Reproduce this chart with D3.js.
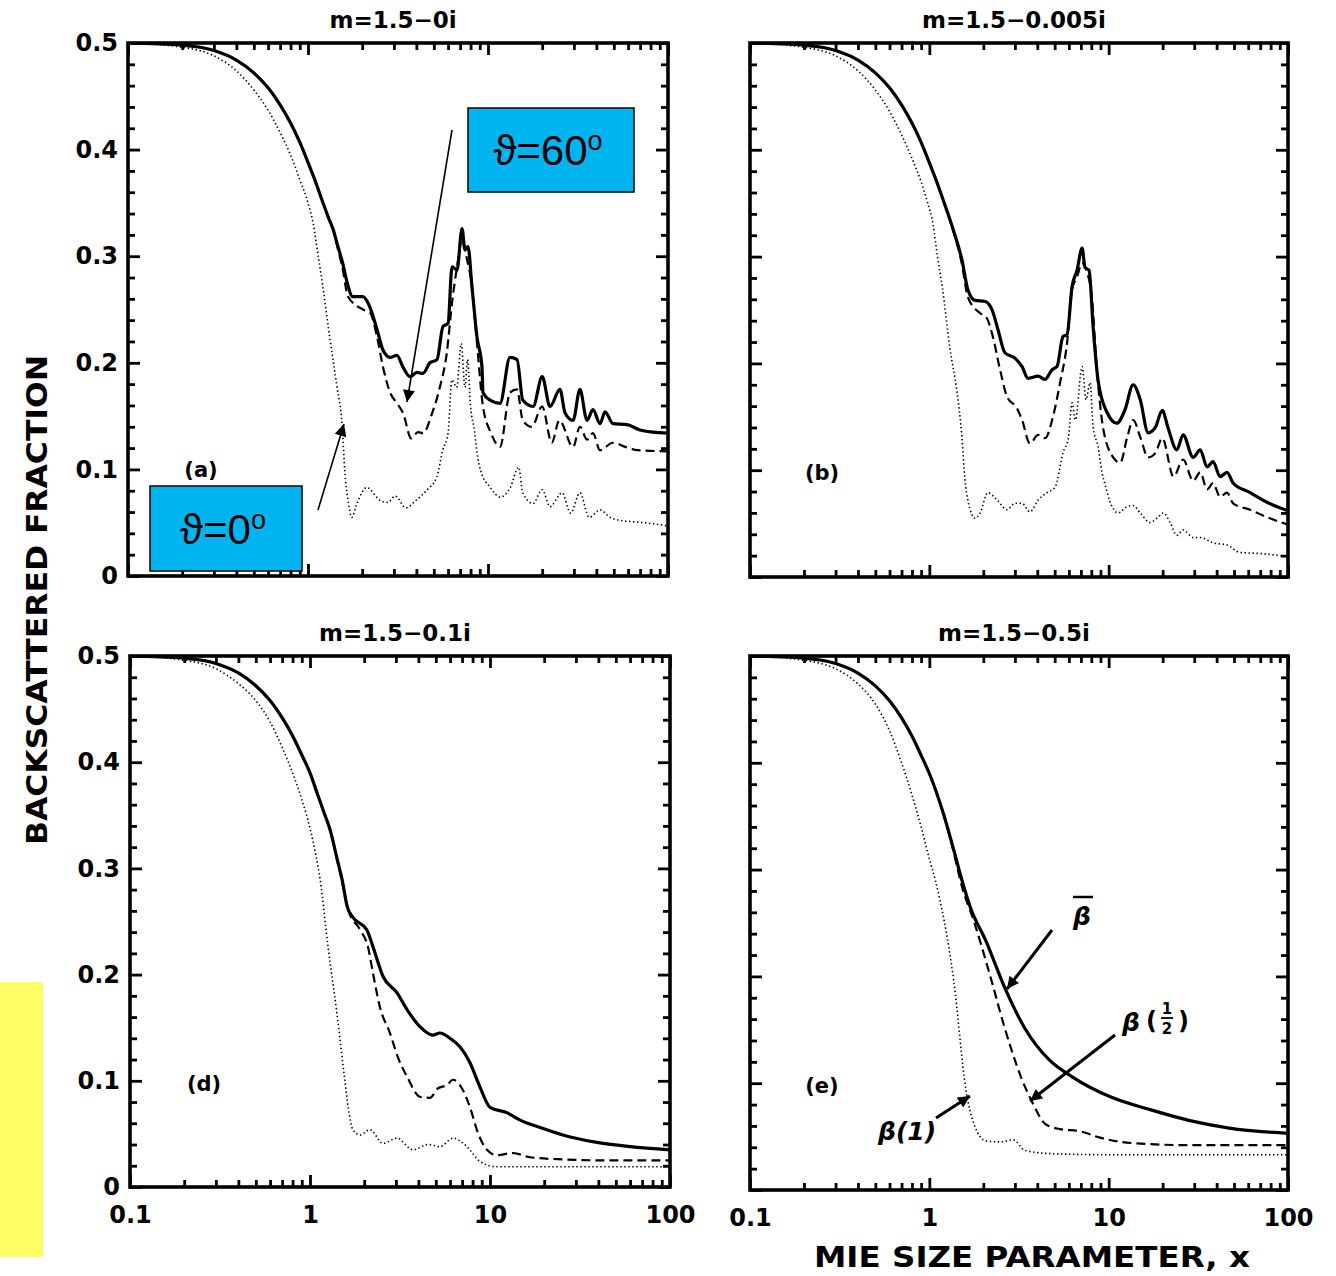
<!DOCTYPE html>
<html>
<head>
<meta charset="utf-8">
<script src="https://d3js.org/d3.v7.min.js"></script>
<style>
html,body{margin:0;background:#fff;}
svg{display:block;font-family:'DejaVu Sans',sans-serif;}
</style>
</head>
<body>
<script>
// backscattered fraction vs Mie size parameter, [x, value]
var aSolid = [[0.1,0.5],[0.2,0.498],[0.3,0.493],[0.4,0.484],[0.5,0.472],[0.6,0.458],[0.7,0.442],[0.8,0.425],[0.9,0.407],[1.0,0.388],[1.1,0.37],[1.2,0.352],[1.3,0.336],[1.38,0.325],[1.45,0.312],[1.55,0.295],[1.67,0.272],[1.76,0.262],[2.02,0.262],[2.21,0.252],[2.42,0.231],[2.61,0.212],[2.86,0.205],[3.12,0.207],[3.37,0.196],[3.69,0.187],[4.03,0.191],[4.35,0.19],[4.76,0.2],[5.21,0.203],[5.62,0.234],[6.0,0.237],[6.31,0.29],[6.73,0.287],[7.17,0.326],[7.45,0.306],[7.74,0.309],[8.15,0.271],[8.69,0.224],[9.26,0.196],[9.38,0.172],[10.26,0.165],[11.66,0.162],[13.25,0.205],[14.5,0.203],[15.6,0.165],[17.8,0.159],[20,0.187],[22.1,0.159],[25.1,0.175],[26.8,0.153],[29.7,0.146],[32.4,0.175],[35.5,0.146],[38.3,0.156],[41.9,0.143],[44.7,0.154],[49.4,0.143],[59.2,0.142],[69.9,0.137],[82.5,0.135],[100,0.134]];
var aDashed = [[0.1,0.5],[0.2,0.498],[0.3,0.493],[0.4,0.484],[0.5,0.472],[0.6,0.458],[0.7,0.442],[0.8,0.425],[0.9,0.407],[1.0,0.388],[1.1,0.37],[1.2,0.352],[1.3,0.336],[1.38,0.325],[1.45,0.31],[1.55,0.29],[1.67,0.262],[2.02,0.25],[2.21,0.247],[2.42,0.224],[2.61,0.196],[2.86,0.172],[3.12,0.162],[3.37,0.153],[3.75,0.129],[4.08,0.135],[4.35,0.134],[4.9,0.153],[5.4,0.177],[5.9,0.209],[6.31,0.256],[6.73,0.29],[7.17,0.315],[7.6,0.299],[8.15,0.271],[8.69,0.218],[9.38,0.159],[10.4,0.134],[11.66,0.121],[13.25,0.172],[14.5,0.175],[15.6,0.146],[17.5,0.14],[20,0.159],[22.6,0.125],[24.9,0.146],[29.7,0.121],[32.4,0.14],[35.5,0.128],[38.3,0.134],[41.9,0.118],[49.4,0.125],[58.3,0.121],[67.8,0.118],[100,0.117]];
var aDotted = [[0.1,0.5],[0.2,0.496],[0.3,0.488],[0.4,0.474],[0.5,0.456],[0.6,0.437],[0.7,0.416],[0.8,0.395],[0.9,0.372],[1.0,0.35],[1.07,0.33],[1.14,0.3],[1.21,0.271],[1.32,0.224],[1.45,0.177],[1.55,0.14],[1.6,0.099],[1.67,0.071],[1.75,0.055],[1.87,0.068],[2.12,0.083],[2.51,0.071],[2.78,0.069],[3.05,0.075],[3.5,0.064],[3.98,0.071],[4.6,0.081],[5.2,0.093],[5.6,0.118],[6.0,0.134],[6.3,0.184],[6.7,0.177],[7.1,0.218],[7.45,0.177],[7.7,0.203],[8.0,0.159],[8.4,0.137],[8.7,0.115],[9.1,0.099],[10.3,0.083],[11.7,0.074],[13.3,0.083],[14.8,0.102],[15.6,0.078],[17.8,0.068],[20,0.081],[22.1,0.065],[25.8,0.078],[28.8,0.059],[32.4,0.078],[36.5,0.055],[42,0.062],[47.6,0.055],[55,0.052],[63,0.051],[82.5,0.049],[100,0.047]];

var bSolid = [[0.1,0.5],[0.2,0.498],[0.3,0.493],[0.4,0.484],[0.5,0.472],[0.6,0.458],[0.7,0.442],[0.8,0.425],[0.9,0.407],[1.0,0.388],[1.1,0.37],[1.2,0.352],[1.36,0.325],[1.52,0.297],[1.64,0.269],[1.8,0.259],[2.05,0.258],[2.24,0.25],[2.42,0.231],[2.64,0.21],[3.0,0.205],[3.29,0.197],[3.55,0.186],[4.04,0.188],[4.42,0.185],[4.83,0.194],[5.15,0.197],[5.56,0.225],[5.86,0.227],[6.25,0.272],[6.66,0.287],[7.11,0.308],[7.38,0.29],[7.78,0.287],[8.19,0.234],[8.73,0.184],[9.8,0.154],[11.1,0.144],[12.3,0.156],[13.7,0.18],[15.0,0.166],[16.6,0.135],[18.2,0.14],[19.9,0.156],[21.4,0.14],[24.0,0.119],[26.0,0.133],[29.6,0.112],[32.4,0.119],[35.4,0.103],[38.2,0.108],[41.8,0.094],[45.7,0.098],[49.4,0.088],[61.5,0.079],[76.4,0.07],[100,0.062]];
var bDashed = [[0.1,0.5],[0.2,0.498],[0.3,0.493],[0.4,0.484],[0.5,0.472],[0.6,0.458],[0.7,0.442],[0.8,0.425],[0.9,0.407],[1.0,0.388],[1.1,0.37],[1.2,0.352],[1.36,0.324],[1.52,0.293],[1.64,0.262],[1.92,0.247],[2.08,0.243],[2.26,0.225],[2.48,0.194],[2.71,0.169],[3.08,0.158],[3.29,0.147],[3.64,0.125],[4.04,0.133],[4.42,0.13],[4.89,0.15],[5.36,0.182],[5.86,0.219],[6.25,0.269],[6.66,0.281],[7.11,0.294],[7.59,0.285],[8.06,0.262],[8.6,0.194],[9.3,0.14],[10.6,0.112],[11.6,0.107],[12.7,0.131],[13.7,0.147],[15.0,0.131],[16.6,0.112],[18.2,0.116],[19.9,0.13],[23.0,0.094],[26.0,0.11],[29.6,0.09],[32.4,0.098],[35.4,0.082],[38.2,0.088],[41.8,0.075],[45.7,0.079],[49.4,0.069],[61.5,0.063],[76.4,0.056],[100,0.049]];
var bDotted = [[0.1,0.5],[0.2,0.496],[0.3,0.488],[0.4,0.474],[0.5,0.456],[0.6,0.436],[0.7,0.414],[0.8,0.392],[0.9,0.37],[0.98,0.35],[1.05,0.33],[1.11,0.3],[1.18,0.272],[1.3,0.215],[1.43,0.172],[1.52,0.131],[1.58,0.091],[1.64,0.072],[1.8,0.055],[1.92,0.06],[2.12,0.079],[2.39,0.072],[2.71,0.063],[3.0,0.069],[3.29,0.069],[3.64,0.061],[4.04,0.072],[4.53,0.079],[5.02,0.084],[5.56,0.116],[5.97,0.131],[6.25,0.163],[6.52,0.147],[7.11,0.197],[7.48,0.166],[7.88,0.182],[8.19,0.14],[8.73,0.122],[9.2,0.097],[9.5,0.088],[10.1,0.072],[11.3,0.06],[12.7,0.066],[13.7,0.067],[15.0,0.06],[17.0,0.051],[18.6,0.055],[20.2,0.06],[22.0,0.051],[24.0,0.039],[26.0,0.044],[29.6,0.037],[32.4,0.037],[38.2,0.032],[45.7,0.03],[54,0.023],[70,0.022],[100,0.019]];

var dSolid = [[0.1,0.5],[0.2,0.498],[0.3,0.493],[0.4,0.484],[0.5,0.472],[0.6,0.458],[0.7,0.442],[0.8,0.425],[0.9,0.407],[1.0,0.39],[1.1,0.37],[1.2,0.352],[1.3,0.335],[1.41,0.31],[1.51,0.289],[1.61,0.264],[1.73,0.254],[2.07,0.242],[2.24,0.226],[2.55,0.198],[3.04,0.183],[3.46,0.167],[4.08,0.151],[4.82,0.143],[5.27,0.145],[6.0,0.14],[6.81,0.132],[7.74,0.117],[8.8,0.094],[10.0,0.075],[12.4,0.07],[14.7,0.063],[19.0,0.056],[25.4,0.049],[39.3,0.042],[60,0.038],[100,0.035]];
var dDashed = [[0.1,0.5],[0.2,0.498],[0.3,0.493],[0.4,0.484],[0.5,0.472],[0.6,0.458],[0.7,0.442],[0.8,0.425],[0.9,0.407],[1.0,0.39],[1.1,0.37],[1.2,0.352],[1.3,0.335],[1.41,0.309],[1.51,0.287],[1.63,0.261],[1.9,0.242],[2.1,0.226],[2.24,0.201],[2.45,0.169],[2.78,0.145],[3.08,0.122],[3.46,0.104],[4.08,0.085],[4.64,0.084],[5.14,0.093],[5.77,0.096],[6.23,0.101],[6.98,0.093],[7.74,0.075],[8.57,0.051],[9.62,0.035],[10.9,0.03],[13.4,0.032],[16.7,0.028],[25.4,0.026],[48,0.025],[100,0.025]];
var dDotted = [[0.1,0.5],[0.2,0.496],[0.3,0.488],[0.4,0.474],[0.5,0.458],[0.6,0.438],[0.7,0.414],[0.8,0.39],[0.9,0.365],[1.0,0.338],[1.07,0.315],[1.14,0.289],[1.26,0.226],[1.41,0.164],[1.56,0.101],[1.63,0.075],[1.73,0.054],[1.9,0.049],[2.15,0.054],[2.55,0.041],[3.04,0.046],[3.73,0.035],[4.53,0.04],[5.27,0.038],[6.23,0.046],[7.45,0.038],[8.8,0.024],[10.9,0.019],[16.7,0.019],[31.6,0.019],[100,0.019]];

var eSolid = [[0.1,0.5],[0.2,0.498],[0.3,0.493],[0.4,0.484],[0.5,0.472],[0.6,0.458],[0.7,0.442],[0.8,0.425],[0.9,0.407],[1.0,0.39],[1.2,0.352],[1.35,0.322],[1.52,0.29],[1.69,0.265],[2.07,0.233],[2.64,0.189],[3.42,0.151],[4.65,0.122],[6.26,0.106],[10.3,0.087],[17.2,0.075],[28.4,0.065],[47,0.058],[100,0.053]];
var eDashed = [[0.1,0.5],[0.2,0.498],[0.3,0.493],[0.4,0.484],[0.5,0.472],[0.6,0.458],[0.7,0.442],[0.8,0.425],[0.9,0.407],[1.0,0.39],[1.2,0.352],[1.35,0.32],[1.52,0.284],[1.77,0.252],[2.18,0.201],[2.64,0.151],[3.24,0.106],[3.78,0.081],[4.42,0.062],[5.36,0.057],[6.92,0.055],[8.95,0.049],[13.3,0.044],[28.4,0.042],[100,0.042]];
var eDotted = [[0.1,0.5],[0.2,0.496],[0.3,0.488],[0.4,0.474],[0.5,0.455],[0.6,0.43],[0.7,0.4],[0.8,0.37],[0.9,0.34],[1.0,0.31],[1.08,0.29],[1.37,0.195],[1.6,0.094],[1.77,0.062],[2.07,0.046],[2.51,0.045],[2.93,0.047],[3.42,0.037],[4.83,0.034],[10.3,0.033],[100,0.033]];

var yTickLabels = ['0', '0.1', '0.2', '0.3', '0.4', '0.5'];
var xTickLabels = ['0.1', '1', '10', '100'];
var titles = ['m=1.5\u22120i', 'm=1.5\u22120.005i', 'm=1.5\u22120.1i', 'm=1.5\u22120.5i'];
var tags = ['(a)', '(b)', '(d)', '(e)'];

var W = 1336, H = 1276;
var svg = d3.select('body').append('svg').attr('width', W).attr('height', H);

var defs = svg.append('defs');
defs.append('marker').attr('id', 'head').attr('viewBox', '0 0 10 10')
  .attr('refX', 10).attr('refY', 5).attr('markerWidth', 16).attr('markerHeight', 12)
  .attr('markerUnits', 'userSpaceOnUse').attr('orient', 'auto')
  .append('path').attr('d', 'M0,0 L10,5 L0,10 z').attr('fill', '#000');

// yellow strip on the left
svg.append('rect').attr('x', 0).attr('y', 982).attr('width', 43).attr('height', 275).attr('fill', '#ffff66');

var layout = [
  {left: 128, top: 43, width: 540, height: 533, yLab: true, xLab: false, tagX: 201, tagY: 469, series: [aSolid, aDashed, aDotted]},
  {left: 750, top: 43, width: 538, height: 534, yLab: false, xLab: false, tagX: 822, tagY: 472, series: [bSolid, bDashed, bDotted]},
  {left: 130, top: 656, width: 540, height: 531, yLab: true, xLab: true, tagX: 204, tagY: 1083, series: [dSolid, dDashed, dDotted]},
  {left: 750, top: 656, width: 538, height: 534, yLab: false, xLab: true, tagX: 822, tagY: 1085, series: [eSolid, eDashed, eDotted]}
];
var styles = [
  {w: 3.2, dash: null},
  {w: 2.2, dash: '9,5'},
  {w: 1.6, dash: '1.4,2.6'}
];

layout.forEach(function(p, i) {
  var x = d3.scaleLog().domain([0.1, 100]).range([0, p.width]);
  var y = d3.scaleLinear().domain([0, 0.5]).range([p.height, 0]);
  var g = svg.append('g').attr('transform', 'translate(' + p.left + ',' + p.top + ')');

  g.append('clipPath').attr('id', 'clip' + i).append('rect')
    .attr('width', p.width).attr('height', p.height);

  var line = d3.line().x(function(d) { return x(d[0]); }).y(function(d) { return y(d[1]); })
    .curve(d3.curveMonotoneX);

  g.append('g').attr('clip-path', 'url(#clip' + i + ')').selectAll('path')
    .data(p.series).enter().append('path')
    .attr('d', line)
    .attr('fill', 'none').attr('stroke', '#000')
    .attr('stroke-width', function(d, k) { return styles[k].w; })
    .attr('stroke-dasharray', function(d, k) { return styles[k].dash; })
    .attr('stroke-linejoin', 'round');

  var xAll = x.ticks();
  var xMajor = xAll.filter(function(v) { return Math.abs(Math.log10(v) - Math.round(Math.log10(v))) < 1e-6; });
  var xMinor = xAll.filter(function(v) { return xMajor.indexOf(v) < 0; });
  var yAll = d3.range(0, 26).map(function(k) { return k * 0.02; });
  var yMajor = yAll.filter(function(v, k) { return k % 5 === 0; });
  var yMinor = yAll.filter(function(v, k) { return k % 5 !== 0; });

  function ax(sel) {
    sel.select('.domain').remove();
    sel.selectAll('line').attr('stroke', '#000').attr('stroke-width', 2.8);
    sel.selectAll('text').attr('fill', '#000').attr('font-size', 24).attr('font-weight', 'bold')
      .attr('font-family', 'DejaVu Sans, sans-serif');
  }

  // x ticks, bottom and top
  g.append('g').attr('transform', 'translate(0,' + p.height + ')')
    .call(d3.axisBottom(x).tickValues(xMinor).tickSize(-7).tickFormat('')).call(ax);
  g.append('g').attr('transform', 'translate(0,' + p.height + ')')
    .call(d3.axisBottom(x).tickValues(xMajor).tickSize(-12).tickPadding(19)
      .tickFormat(function(v, k) { return p.xLab ? xTickLabels[k] : ''; })).call(ax);
  g.append('g').call(d3.axisTop(x).tickValues(xMinor).tickSize(-7).tickFormat('')).call(ax);
  g.append('g').call(d3.axisTop(x).tickValues(xMajor).tickSize(-12).tickFormat('')).call(ax);

  // y ticks, left and right
  g.append('g').call(d3.axisLeft(y).tickValues(yMinor).tickSize(-7).tickFormat('')).call(ax);
  g.append('g').call(d3.axisLeft(y).tickValues(yMajor).tickSize(-12).tickPadding(10)
    .tickFormat(function(v, k) { return p.yLab ? yTickLabels[k] : ''; })).call(ax);
  g.append('g').attr('transform', 'translate(' + p.width + ',0)')
    .call(d3.axisRight(y).tickValues(yMinor).tickSize(-7).tickFormat('')).call(ax);
  g.append('g').attr('transform', 'translate(' + p.width + ',0)')
    .call(d3.axisRight(y).tickValues(yMajor).tickSize(-12).tickFormat('')).call(ax);

  g.append('rect').attr('width', p.width).attr('height', p.height)
    .attr('fill', 'none').attr('stroke', '#000').attr('stroke-width', 3.6);

  svg.append('text').attr('x', p.left + p.width / 2 - 5).attr('y', p.top - 15)
    .attr('text-anchor', 'middle').attr('font-size', 23).attr('font-weight', 'bold')
    .text(titles[i]);

  svg.append('text').attr('x', p.tagX).attr('y', p.tagY + 8)
    .attr('text-anchor', 'middle').attr('font-size', 21).attr('font-weight', 'bold')
    .text(tags[i]);
});

// axis titles
svg.append('text').attr('transform', 'translate(47,600) rotate(-90)')
  .attr('text-anchor', 'middle').attr('font-size', 28).attr('font-weight', 'bold')
  .attr('textLength', 490).attr('lengthAdjust', 'spacingAndGlyphs')
  .text('BACKSCATTERED FRACTION');
svg.append('text').attr('x', 1032).attr('y', 1267)
  .attr('text-anchor', 'middle').attr('font-size', 29).attr('font-weight', 'bold')
  .attr('textLength', 436).attr('lengthAdjust', 'spacingAndGlyphs')
  .text('MIE SIZE PARAMETER, x');

// angle boxes in panel (a)
function angleBox(x0, y0, w, h, label) {
  svg.append('rect').attr('x', x0).attr('y', y0).attr('width', w).attr('height', h)
    .attr('fill', '#00b4f0').attr('stroke', '#000').attr('stroke-width', 1.5);
  var t = svg.append('text').attr('x', x0 + w / 2 - 3).attr('y', y0 + h / 2 + 15)
    .attr('text-anchor', 'middle').attr('font-size', 42)
    .attr('font-family', 'Liberation Sans, DejaVu Sans, sans-serif');
  t.append('tspan').text('\u03d1=' + label);
  t.append('tspan').attr('font-size', 27).attr('dy', -15).text('o');
}
angleBox(468, 108, 166, 84, '60');
angleBox(150, 486, 152, 85, '0');

function arrow(x1, y1, x2, y2, w) {
  svg.append('line').attr('x1', x1).attr('y1', y1).attr('x2', x2).attr('y2', y2)
    .attr('stroke', '#000').attr('stroke-width', w).attr('marker-end', 'url(#head)');
}
arrow(452, 130, 407, 402, 1.6);
arrow(318, 510, 344, 424, 1.6);

// curve labels in panel (e)
var lab = svg.append('g').attr('font-weight', 'bold').attr('font-style', 'italic')
  .attr('font-family', 'DejaVu Sans, sans-serif');
lab.append('text').attr('x', 1082).attr('y', 925).attr('text-anchor', 'middle').attr('font-size', 25).text('\u03b2');
lab.append('line').attr('x1', 1073).attr('x2', 1093).attr('y1', 897).attr('y2', 897).attr('stroke', '#000').attr('stroke-width', 2.5);
arrow(1052, 930, 1007, 989, 3);

lab.append('text').attr('x', 1122).attr('y', 1031).attr('font-size', 25).text('\u03b2');
lab.append('text').attr('x', 1146).attr('y', 1029).attr('font-size', 24).attr('font-style', 'normal').text('(');
lab.append('text').attr('x', 1167).attr('y', 1014).attr('text-anchor', 'middle').attr('font-size', 15).attr('font-style', 'normal').text('1');
lab.append('line').attr('x1', 1161).attr('x2', 1173).attr('y1', 1018).attr('y2', 1018).attr('stroke', '#000').attr('stroke-width', 1.8);
lab.append('text').attr('x', 1167).attr('y', 1034).attr('text-anchor', 'middle').attr('font-size', 15).attr('font-style', 'normal').text('2');
lab.append('text').attr('x', 1178).attr('y', 1029).attr('font-size', 24).attr('font-style', 'normal').text(')');
arrow(1115, 1035, 1030, 1101, 3);

lab.append('text').attr('x', 878).attr('y', 1140).attr('font-size', 25).text('\u03b2(1)');
arrow(936, 1118, 970, 1096, 3);
</script>
</body>
</html>
